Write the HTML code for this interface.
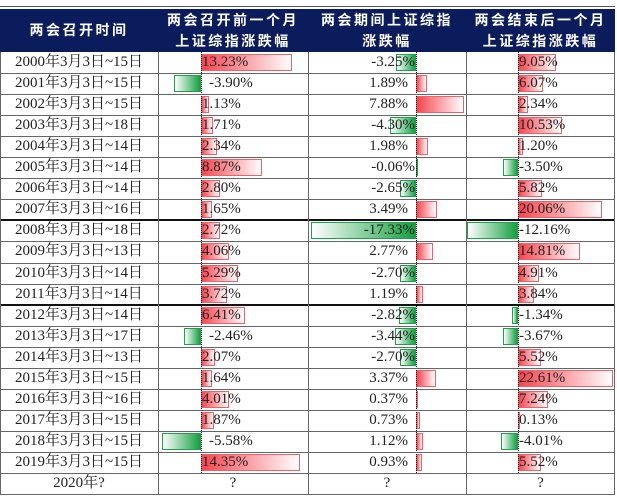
<!DOCTYPE html>
<html><head><meta charset="utf-8">
<style>
body{margin:0;background:#fff;width:617px;height:497px;overflow:hidden;position:relative;font-family:"Liberation Serif","Noto Serif CJK SC",serif;}
.a{position:absolute;}
.hd{position:absolute;color:#fff;font-family:"Liberation Sans","Noto Sans CJK SC",sans-serif;font-weight:bold;font-size:14px;letter-spacing:2.5px;text-align:center;line-height:21px;}
.t{position:absolute;font-size:15px;color:#222;line-height:21px;white-space:nowrap;}
</style></head><body>
<div class="a" style="left:0;top:6px;width:615px;height:1px;background:#555"></div>
<div class="a" style="left:0;top:9px;width:615px;height:43px;background:#0b1c5c"></div>
<div class="hd" style="left:0;top:20px;width:158px">两会召开时间</div>
<div class="hd" style="left:158px;top:10px;width:150px">两会召开前一个月<br>上证综指涨跌幅</div>
<div class="hd" style="left:308px;top:10px;width:158px">两会期间上证综指<br>涨跌幅</div>
<div class="hd" style="left:466px;top:10px;width:149px">两会结束后一个月<br>上证综指涨跌幅</div>
<div id="tb"></div>
<script>
const periods=["2000年3月3日~15日","2001年3月3日~15日","2002年3月3日~15日","2003年3月3日~18日","2004年3月3日~14日","2005年3月3日~14日","2006年3月3日~14日","2007年3月3日~16日","2008年3月3日~18日","2009年3月3日~13日","2010年3月3日~14日","2011年3月3日~14日","2012年3月3日~14日","2013年3月3日~17日","2014年3月3日~13日","2015年3月3日~15日","2016年3月3日~16日","2017年3月3日~15日","2018年3月3日~15日","2019年3月3日~15日"];
const before=[13.23,-3.90,1.13,1.71,2.34,8.87,2.80,1.65,2.72,4.06,5.29,3.72,6.41,-2.46,2.07,1.64,4.01,1.87,-5.58,14.35];
const during=[-3.25,1.89,7.88,-4.30,1.98,-0.06,-2.65,3.49,-17.33,2.77,-2.70,1.19,-2.82,-3.44,-2.70,3.37,0.37,0.73,1.12,0.93];
const after=[9.05,6.07,2.34,10.53,1.20,-3.50,5.82,20.06,-12.16,14.81,4.91,3.84,-1.34,-3.67,5.52,22.61,7.24,0.13,-4.01,5.52];
const lastLabel="2020年?";
const T0=52,RH=21.05;
const cols=[
 {name:'before',x0:158,x1:308,axis:201,scale:6.9,data:before,mode:'left'},
 {name:'during',x0:308,x1:466,axis:416,scale:6.07,data:during,mode:'right'},
 {name:'after',x0:466,x1:615,axis:518,scale:4.2,data:after,mode:'left'}];
const tb=document.getElementById('tb');
function mk(cls,st,txt){const d=document.createElement('div');d.className=cls;d.style.cssText=st;if(txt!==undefined)d.textContent=txt;tb.appendChild(d);return d;}
const n=periods.length;
for(let i=0;i<=n;i++){
  const y=T0+i*RH;
  const c=mk('t',`left:0;top:${y}px;width:158px;text-align:center;`,i<n?periods[i]:lastLabel);
  
  
}
cols.forEach(col=>{
  col.data.forEach((v,i)=>{
    const y=T0+i*RH;
    const w=Math.abs(v)*col.scale;
    const b=mk('a','');
    if(v>=0){
      b.style.cssText=`left:${col.axis}px;top:${y+2}px;width:${Math.max(w-2,0)}px;height:${RH-6}px;border:1px solid #f06068;background:linear-gradient(to right,#f5454f,#fff);`;
    }else{
      b.style.cssText=`left:${col.axis-w}px;top:${y+2}px;width:${Math.max(w-2,0)}px;height:${RH-6}px;border:1px solid #1fa04a;background:linear-gradient(to right,#fff,#13a040);`;
    }
    
    
    const s=(v.toFixed(2))+'%';
    let t;
    if(col.mode==='left'){
      t=mk('t',`left:${col.axis+(v<0&&col.name==='before'?8:1)}px;top:${y}px;`,s);
    }else{
      const r=v<0?466-415:466-408;
      t=mk('t',`right:${617-col.axis-(v<0?-1:-1)+(v<0?0:7)}px;top:${y}px;`,s);
    }
    
    
  });
  const ax=mk('a',`left:${col.axis}px;top:${T0}px;width:0;height:${n*RH}px;border-left:1px dotted #111;`);
  
  
  const q=mk('t',`left:${col.x0}px;top:${T0+n*RH}px;width:${col.x1-col.x0}px;text-align:center;`,'?');
  
  
});
for(let i=1;i<=n+1;i++){
  const y=T0+i*RH;
  const thick=(i===8||i===12);
  const l=mk('a',`left:0;top:${y-(thick?1:0)}px;width:615px;height:${thick?2:1}px;background:${thick?'#111':'#666'};`);
  
  
}
[0,158,308,466,614].forEach(x=>{
  const l=mk('a',`left:${x}px;top:${T0}px;width:1px;height:${(n+1)*RH}px;background:#666;`);
  
  
});
</script>
</body></html>
